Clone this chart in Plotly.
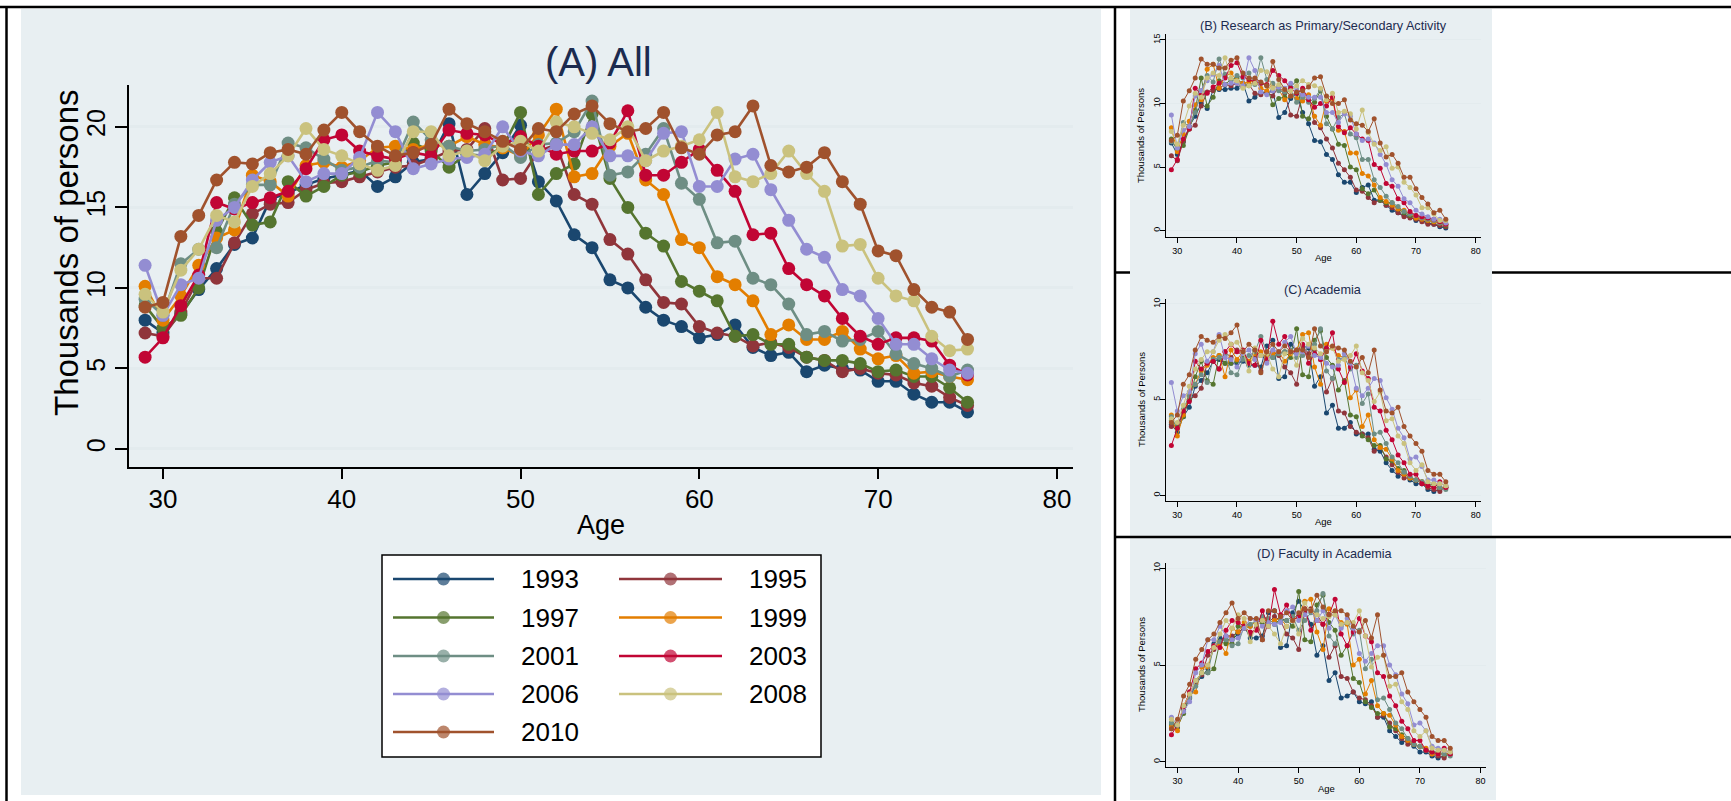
import plotly.graph_objects as go

W, H = 1731, 801
FONT = "Liberation Sans, Arial, sans-serif"

ages = list(range(29, 76))
years = ["1993", "1995", "1997", "1999", "2001", "2003", "2006", "2008", "2010"]
colors = ["#1a476f", "#90353b", "#55752f", "#e37e00", "#6e8e84",
          "#c10534", "#938dd2", "#cac27e", "#a0522d"]

# ---------------- Panel A: All ----------------
a_1993 = [8.0, 7.2, 8.4, 9.9, 11.2, 12.7, 13.1, 15.5, 15.9, 16.4, 16.8, 17.0, 17.3, 16.3, 16.9, 17.8, 18.0, 20.2, 15.8, 17.1,
          18.4, 20.1, 16.6, 15.4, 13.3, 12.5, 10.5, 10.0, 8.8, 8.0, 7.6, 6.9, 7.1, 7.7, 6.3, 5.8, 6.0, 4.8, 5.2, 5.0,
          4.9, 4.2, 4.2, 3.4, 2.9, 2.9, 2.3]
a_1995 = [7.2, 7.0, 8.5, 10.6, 10.6, 12.8, 14.6, 15.2, 15.3, 16.1, 16.5, 16.6, 16.9, 17.2, 17.5, 17.6, 18.0, 18.5, 18.6, 19.9,
          16.7, 16.8, 18.5, 18.9, 15.8, 15.2, 13.0, 12.1, 10.5, 9.1, 9.0, 7.6, 7.2, 7.0, 6.4, 6.6, 6.3, 5.7, 5.5, 4.8,
          5.0, 4.7, 4.6, 4.1, 3.9, 3.2, 2.7]
a_1997 = [8.9, 7.5, 8.3, 10.0, 13.5, 15.6, 13.9, 14.1, 16.6, 15.7, 16.3, 17.0, 17.2, 17.6, 17.8, 19.0, 18.5, 17.5, 18.3, 18.2,
          18.7, 20.9, 15.8, 17.1, 17.7, 20.8, 16.8, 15.0, 13.4, 12.6, 10.4, 9.8, 9.2, 7.0, 7.1, 6.5, 6.5, 5.7, 5.5, 5.5,
          5.3, 4.8, 4.9, 4.5, 4.5, 3.8, 2.9]
a_1999 = [10.1, 8.0, 9.5, 11.4, 13.1, 13.6, 17.0, 16.6, 15.7, 17.6, 17.8, 17.5, 17.9, 18.7, 18.8, 18.6, 18.9, 18.8, 19.4, 18.9,
          18.7, 18.2, 19.5, 21.1, 16.9, 17.1, 18.8, 19.6, 16.7, 15.8, 13.0, 12.5, 10.7, 10.2, 9.2, 7.1, 7.7, 6.8, 6.8, 7.3,
          6.2, 5.6, 5.8, 4.7, 4.8, 4.5, 4.3]
a_2001 = [9.3, 8.3, 11.5, 12.4, 12.5, 15.2, 16.4, 16.4, 19.0, 18.7, 18.0, 17.3, 17.5, 17.9, 17.8, 20.3, 19.2, 18.8, 18.5, 18.6,
          18.9, 18.1, 18.9, 19.0, 19.7, 21.6, 17.0, 17.2, 18.3, 19.9, 16.5, 15.5, 12.8, 12.9, 10.6, 10.2, 9.0, 7.1, 7.3, 6.7,
          6.8, 7.3, 5.9, 5.3, 5.0, 4.5, 4.9]
a_2003 = [5.7, 6.9, 8.9, 10.8, 15.3, 14.9, 15.3, 15.6, 16.0, 17.4, 19.2, 19.5, 18.5, 18.2, 18.0, 18.4, 18.2, 19.8, 19.6, 19.5,
          18.9, 19.4, 18.8, 18.3, 18.5, 18.5, 19.0, 21.0, 17.0, 17.0, 17.8, 18.6, 17.3, 16.0, 13.3, 13.4, 11.2, 10.2, 9.5, 8.1,
          7.0, 6.5, 6.9, 6.9, 6.7, 5.2, 4.6]
a_2006 = [11.4, 8.3, 10.2, 10.6, 14.2, 15.0, 16.7, 17.8, 18.2, 16.6, 17.1, 17.1, 18.1, 20.9, 19.7, 17.4, 17.7, 18.0, 18.1, 18.3,
          20.0, 18.5, 18.2, 18.9, 18.9, 20.0, 18.2, 18.2, 17.9, 19.6, 19.7, 16.3, 16.3, 18.0, 18.3, 16.1, 14.2, 12.4, 11.9, 9.9,
          9.5, 8.1, 6.5, 6.5, 5.6, 4.9, 4.7]
a_2008 = [9.6, 8.5, 11.1, 12.4, 14.5, 14.1, 16.3, 17.1, 18.2, 19.9, 18.6, 18.2, 17.7, 17.3, 17.6, 19.7, 19.7, 18.2, 18.5, 17.9,
          18.8, 19.1, 18.5, 20.3, 20.0, 19.6, 19.2, 20.0, 17.9, 18.5, 18.8, 19.2, 20.9, 16.9, 16.6, 17.1, 18.5, 17.1, 16.0, 12.6,
          12.7, 10.6, 9.5, 9.2, 7.0, 6.1, 6.2]
a_2010 = [8.8, 9.1, 13.2, 14.5, 16.7, 17.8, 17.7, 18.4, 18.6, 18.3, 19.8, 20.9, 19.7, 18.8, 18.2, 18.4, 18.9, 21.1, 20.2, 19.7,
          19.1, 18.6, 19.9, 19.7, 20.8, 21.3, 20.2, 19.7, 19.9, 20.9, 18.7, 18.3, 19.5, 19.7, 21.3, 17.6, 17.2, 17.5, 18.4, 16.6,
          15.2, 12.3, 12.0, 9.9, 8.8, 8.5, 6.8]

# ---------------- Panel B: Research as Primary/Secondary Activity ----------------
b_1993 = [6.9, 6.0, 7.0, 8.2, 9.0, 10.0, 9.6, 11.1, 11.1, 11.1, 11.2, 11.2, 11.6, 10.2, 10.5, 10.9, 10.8, 11.0, 8.9, 9.3,
          10.4, 10.8, 9.3, 8.4, 7.1, 7.0, 6.0, 5.6, 4.4, 3.8, 3.8, 3.0, 3.4, 3.6, 2.4, 2.4, 2.0, 1.6, 1.4, 1.2,
          1.1, 0.8, 0.8, 0.6, 0.5, 0.3, 0.2]
b_1995 = [5.9, 5.5, 7.0, 8.0, 8.3, 9.8, 10.9, 11.0, 11.2, 11.5, 11.4, 11.6, 11.3, 11.5, 10.8, 10.7, 10.9, 10.6, 11.3, 10.8,
          9.1, 9.0, 10.7, 10.5, 8.5, 8.1, 7.2, 6.5, 5.3, 4.8, 4.2, 3.2, 3.1, 2.6, 2.2, 2.4, 2.0, 1.8, 1.4, 1.1,
          1.0, 0.9, 0.7, 0.5, 0.5, 0.4, 0.3]
b_1997 = [7.2, 6.3, 6.7, 8.0, 9.5, 12.0, 9.8, 10.5, 11.8, 11.5, 11.9, 12.0, 11.5, 11.4, 11.7, 11.6, 11.4, 9.9, 10.4, 10.5,
          11.3, 11.8, 9.0, 8.8, 10.1, 11.0, 9.0, 8.0, 6.8, 6.7, 5.0, 4.8, 3.3, 2.9, 3.2, 2.4, 2.2, 2.2, 1.7, 1.4,
          1.2, 1.0, 1.0, 0.8, 0.7, 0.6, 0.4]
b_1999 = [8.1, 6.2, 7.6, 8.6, 9.9, 10.3, 12.7, 13.1, 11.2, 12.1, 12.4, 11.8, 11.6, 11.7, 11.8, 11.2, 11.0, 11.5, 11.1, 10.3,
          10.6, 10.4, 10.2, 10.7, 9.0, 8.3, 10.2, 10.4, 7.9, 7.8, 6.1, 6.1, 4.5, 4.3, 3.6, 2.6, 2.3, 2.0, 1.7, 1.6,
          1.3, 1.0, 0.9, 0.8, 0.7, 0.6, 0.5]
b_2001 = [7.0, 6.5, 8.5, 8.2, 9.3, 11.0, 12.2, 11.7, 13.5, 12.3, 11.8, 12.2, 12.0, 12.4, 11.5, 13.6, 11.9, 11.6, 11.0, 10.9,
          11.1, 10.1, 10.5, 10.1, 10.4, 11.1, 8.4, 8.0, 8.9, 9.2, 7.6, 7.3, 5.6, 5.6, 4.0, 3.4, 2.7, 2.2, 1.9, 1.5,
          1.3, 1.2, 1.0, 0.9, 0.8, 0.6, 0.5]
b_2003 = [4.8, 5.6, 7.2, 8.0, 11.2, 10.7, 10.8, 11.3, 11.6, 12.0, 13.0, 13.2, 12.1, 11.9, 11.7, 11.6, 11.5, 12.6, 12.2, 11.8,
          11.2, 10.8, 11.2, 10.3, 9.7, 10.0, 9.8, 10.5, 8.2, 7.7, 8.1, 7.6, 7.2, 7.1, 5.2, 4.9, 3.7, 3.5, 2.5, 2.2,
          1.5, 1.2, 1.1, 1.0, 0.9, 0.7, 0.5]
b_2006 = [9.1, 6.5, 7.9, 8.2, 10.6, 11.0, 11.8, 12.3, 13.0, 11.5, 11.6, 11.6, 11.4, 13.6, 12.6, 10.9, 10.7, 11.0, 11.3, 11.2,
          11.6, 11.0, 10.7, 10.5, 10.5, 10.5, 9.3, 9.3, 8.5, 9.2, 9.0, 7.6, 7.1, 7.2, 6.9, 6.0, 5.2, 4.0, 3.5, 2.5,
          2.2, 1.6, 1.3, 1.1, 0.9, 0.9, 0.6]
b_2008 = [7.8, 6.8, 8.3, 9.8, 10.8, 10.5, 12.0, 12.4, 12.2, 13.6, 12.0, 11.8, 11.2, 11.4, 11.6, 12.6, 12.5, 11.2, 11.5, 11.1,
          11.0, 11.4, 11.8, 11.5, 11.4, 11.2, 10.3, 10.8, 9.3, 9.4, 9.2, 8.0, 9.5, 7.7, 6.8, 6.3, 6.6, 4.9, 5.0, 3.8,
          3.4, 2.8, 1.8, 1.8, 1.3, 0.8, 0.8]
b_2010 = [7.1, 7.5, 10.2, 11.0, 12.0, 13.5, 13.1, 13.1, 12.8, 12.8, 13.4, 13.6, 12.4, 12.0, 12.0, 11.7, 11.4, 13.3, 11.9, 11.1,
          10.6, 10.9, 11.0, 11.3, 12.0, 12.1, 10.6, 10.0, 10.0, 10.3, 8.7, 8.4, 8.3, 7.8, 8.8, 6.9, 5.8, 6.0, 5.3, 4.2,
          4.2, 3.3, 2.6, 2.1, 1.4, 1.6, 0.9]

# ---------------- Panel C: Academia ----------------
c_1993 = [3.7, 3.3, 4.1, 4.6, 5.7, 6.0, 6.4, 7.0, 7.1, 6.9, 6.9, 6.9, 7.0, 6.8, 6.8, 6.7, 7.8, 8.1, 6.1, 6.2,
          7.9, 7.5, 7.8, 7.7, 5.7, 6.2, 4.3, 4.7, 3.5, 3.5, 3.8, 3.2, 3.2, 3.2, 2.4, 2.3, 1.7, 1.3, 1.0, 1.2,
          0.8, 0.6, 0.6, 0.3, 0.2, 0.3, 0.4]
c_1995 = [3.6, 3.7, 4.3, 5.0, 5.2, 5.6, 6.9, 7.0, 6.6, 7.5, 7.2, 7.6, 7.2, 6.9, 7.2, 6.5, 7.3, 7.5, 7.3, 6.7,
          6.4, 5.8, 7.8, 7.4, 7.6, 7.1, 5.4, 6.1, 4.4, 4.3, 3.6, 3.3, 3.2, 3.0, 2.3, 2.5, 2.0, 1.6, 1.2, 0.9,
          0.9, 0.8, 0.6, 0.4, 0.3, 0.2, 0.5]
c_1997 = [3.9, 3.6, 4.1, 5.0, 6.2, 7.0, 6.0, 5.8, 7.3, 6.9, 6.9, 7.0, 7.2, 7.0, 7.6, 7.3, 7.4, 7.2, 7.4, 7.5,
          7.2, 8.7, 6.3, 6.2, 8.1, 8.6, 7.2, 6.8, 5.5, 6.0, 4.2, 4.1, 3.1, 2.9, 2.6, 2.6, 1.9, 1.8, 1.4, 1.3,
          0.9, 0.8, 0.7, 0.5, 0.6, 0.4, 0.4]
c_1999 = [4.2, 3.1, 4.2, 5.3, 5.8, 6.5, 6.8, 7.2, 7.3, 6.2, 7.6, 7.1, 7.5, 7.0, 7.4, 7.5, 7.2, 7.4, 7.5, 7.0,
          7.4, 7.6, 8.4, 8.5, 6.7, 5.8, 7.9, 7.7, 7.3, 7.2, 5.1, 5.5, 3.6, 4.2, 2.9, 2.5, 2.4, 1.9, 1.3, 1.1,
          0.9, 0.8, 0.7, 0.5, 0.4, 0.4, 0.4]
c_2001 = [4.1, 3.5, 4.5, 5.2, 5.8, 6.3, 5.9, 7.1, 7.2, 7.3, 6.4, 6.3, 7.1, 7.3, 7.5, 8.3, 7.5, 7.2, 7.4, 7.5,
          7.6, 7.2, 7.3, 7.8, 7.9, 8.7, 6.5, 6.1, 7.1, 7.2, 6.6, 6.8, 4.8, 5.3, 3.2, 3.3, 2.7, 2.0, 1.7, 1.2,
          1.0, 0.8, 0.7, 0.6, 0.4, 0.4, 0.3]
c_2003 = [2.6, 3.5, 4.4, 4.9, 7.0, 6.6, 6.9, 7.0, 6.6, 7.5, 7.9, 7.5, 7.6, 6.9, 6.8, 8.1, 7.1, 9.1, 7.9, 8.3,
          7.5, 7.5, 7.9, 6.9, 7.4, 7.1, 7.7, 8.5, 6.6, 5.9, 6.7, 7.4, 6.5, 6.1, 4.6, 4.4, 3.4, 2.9, 2.1, 1.7,
          1.1, 1.1, 0.6, 0.5, 0.4, 0.7, 0.4]
c_2006 = [5.9, 4.4, 5.2, 5.4, 7.4, 7.9, 7.0, 7.5, 8.4, 7.2, 7.1, 6.7, 7.4, 7.6, 7.1, 7.3, 6.9, 7.6, 7.5, 8.0,
          8.3, 7.4, 7.5, 7.8, 7.3, 7.2, 6.9, 6.7, 6.8, 7.4, 6.9, 5.6, 5.2, 5.6, 6.1, 6.0, 5.1, 4.5, 3.5, 3.0,
          1.9, 2.0, 1.5, 0.8, 0.8, 0.6, 0.5]
c_2008 = [4.0, 3.8, 4.7, 5.7, 6.6, 7.1, 7.5, 7.5, 8.1, 8.4, 7.9, 8.0, 7.5, 6.5, 7.7, 7.3, 7.4, 6.6, 6.2, 7.4,
          7.5, 6.8, 8.2, 7.9, 7.7, 7.4, 7.5, 7.7, 7.0, 7.1, 7.3, 7.8, 6.4, 6.0, 4.9, 5.4, 3.9, 4.0, 3.1, 2.7,
          1.7, 1.3, 1.6, 0.7, 0.6, 0.6, 0.5]
c_2010 = [3.8, 4.2, 5.8, 6.3, 7.6, 8.3, 8.1, 8.0, 8.3, 8.2, 8.5, 8.9, 7.5, 7.9, 7.6, 6.4, 7.5, 7.9, 7.5, 7.8,
          7.5, 7.6, 7.6, 7.2, 8.7, 7.8, 7.5, 7.8, 7.7, 7.6, 7.0, 6.7, 7.2, 6.4, 7.6, 5.5, 4.4, 4.3, 4.6, 3.6,
          3.1, 2.7, 2.3, 1.3, 1.1, 1.1, 0.7]

# ---------------- Panel D: Faculty in Academia ----------------
d_1993 = [2.0, 1.8, 2.7, 3.3, 4.0, 4.4, 4.8, 6.1, 6.4, 6.3, 6.3, 6.6, 7.0, 6.4, 6.4, 6.5, 7.7, 7.8, 5.9, 6.0,
          7.7, 8.3, 7.8, 7.1, 5.5, 6.0, 4.2, 4.6, 3.3, 3.4, 3.6, 3.1, 3.0, 3.1, 2.3, 2.3, 1.6, 1.3, 1.0, 1.1,
          0.8, 0.5, 0.5, 0.3, 0.2, 0.3, 0.4]
d_1995 = [1.7, 1.9, 2.8, 3.6, 4.1, 4.5, 5.5, 5.8, 6.2, 6.5, 6.5, 6.7, 6.9, 6.6, 6.9, 6.3, 7.2, 7.5, 7.3, 6.6,
          6.4, 5.8, 7.8, 7.9, 7.6, 7.1, 5.4, 6.0, 4.4, 4.3, 3.6, 3.3, 3.2, 2.9, 2.3, 2.4, 2.0, 1.6, 1.2, 0.9,
          0.9, 0.8, 0.6, 0.4, 0.3, 0.2, 0.5]
d_1997 = [1.9, 1.8, 2.5, 3.4, 4.2, 4.6, 4.6, 4.8, 6.2, 6.1, 6.1, 7.0, 6.9, 7.0, 7.3, 7.2, 7.2, 7.1, 7.4, 7.3,
          7.0, 8.8, 6.3, 6.2, 8.1, 8.6, 7.2, 6.8, 5.5, 6.0, 4.3, 4.1, 3.1, 2.8, 2.5, 2.5, 1.8, 1.7, 1.4, 1.2,
          0.9, 0.8, 0.6, 0.5, 0.5, 0.4, 0.4]
d_1999 = [1.8, 1.6, 2.9, 3.5, 3.6, 4.9, 4.9, 5.9, 6.1, 5.6, 6.9, 6.7, 7.2, 7.0, 7.3, 7.4, 7.2, 7.3, 7.4, 7.0,
          7.3, 7.5, 8.3, 8.4, 6.7, 5.8, 7.9, 7.6, 7.2, 7.1, 5.0, 5.3, 3.5, 4.2, 2.9, 2.5, 2.4, 1.9, 1.3, 1.1,
          0.9, 0.8, 0.7, 0.4, 0.4, 0.4, 0.4]
d_2001 = [2.0, 1.9, 2.8, 3.3, 3.9, 4.6, 4.6, 6.0, 6.2, 6.3, 6.0, 6.1, 7.0, 7.1, 7.3, 7.5, 7.4, 7.1, 7.3, 7.3,
          7.5, 6.8, 7.3, 7.7, 7.8, 8.7, 6.5, 6.1, 7.0, 7.2, 6.6, 6.8, 4.8, 5.3, 3.2, 3.3, 2.7, 2.0, 1.7, 1.2,
          0.9, 0.8, 0.6, 0.5, 0.4, 0.4, 0.3]
d_2003 = [1.4, 1.9, 2.8, 3.6, 4.8, 5.1, 5.7, 6.0, 5.9, 6.8, 7.3, 7.2, 7.0, 6.7, 6.8, 7.8, 7.0, 8.9, 7.6, 8.1,
          7.3, 7.5, 7.9, 6.8, 7.3, 7.1, 7.6, 8.4, 6.6, 6.0, 6.7, 7.4, 6.5, 6.2, 4.6, 4.4, 3.4, 2.9, 2.1, 1.7,
          1.1, 1.1, 0.6, 0.5, 0.4, 0.7, 0.4]
d_2006 = [2.3, 1.9, 2.6, 3.1, 4.6, 5.0, 6.3, 6.3, 7.0, 6.5, 6.3, 6.4, 6.9, 7.4, 7.3, 7.0, 7.2, 7.1, 7.2, 7.8,
          8.0, 7.3, 7.6, 7.8, 7.3, 7.8, 6.9, 7.6, 6.9, 7.4, 6.9, 5.6, 5.2, 5.6, 6.0, 6.0, 5.0, 4.5, 3.5, 3.0,
          1.9, 2.0, 1.6, 0.8, 0.7, 0.6, 0.5]
d_2008 = [2.2, 1.9, 2.9, 3.5, 4.2, 4.6, 5.0, 5.9, 6.6, 7.3, 6.9, 7.6, 7.4, 6.2, 7.1, 7.3, 7.0, 6.6, 6.1, 7.0,
          7.3, 6.6, 8.2, 7.8, 7.6, 7.4, 7.5, 7.6, 7.1, 7.2, 7.2, 7.8, 6.5, 4.9, 5.4, 5.5, 3.9, 4.0, 3.1, 2.7,
          1.6, 1.3, 1.6, 0.7, 0.6, 0.6, 0.5]
d_2010 = [1.7, 2.2, 3.4, 4.0, 5.3, 5.8, 6.3, 6.6, 7.2, 7.7, 8.2, 7.4, 7.7, 7.4, 7.4, 6.3, 7.8, 7.8, 7.5, 7.7,
          7.3, 7.7, 7.9, 7.8, 8.6, 8.0, 7.6, 7.8, 7.8, 7.6, 7.0, 6.7, 7.3, 6.4, 7.6, 5.5, 4.4, 4.4, 4.6, 3.6,
          3.1, 2.7, 2.3, 1.3, 1.1, 1.1, 0.7]

x_ticks = [30, 40, 50, 60, 70, 80]
a_yticks = [0, 5, 10, 15, 20]
b_yticks = [0, 5, 10, 15]
cd_yticks = [0, 5, 10]

panel_titles = ["(A) All", "(B) Research as Primary/Secondary Activity",
                "(C) Academia", "(D) Faculty in Academia"]
ytitle_a = "Thousands of persons"
ytitle_small = "Thousands of Persons"
xtitle = "Age"

series = {
    "A": [a_1993, a_1995, a_1997, a_1999, a_2001, a_2003, a_2006, a_2008, a_2010],
    "B": [b_1993, b_1995, b_1997, b_1999, b_2001, b_2003, b_2006, b_2008, b_2010],
    "C": [c_1993, c_1995, c_1997, c_1999, c_2001, c_2003, c_2006, c_2008, c_2010],
    "D": [d_1993, d_1995, d_1997, d_1999, d_2001, d_2003, d_2006, d_2008, d_2010],
}
for k, lst in series.items():
    for i, s in enumerate(lst):
        assert len(s) == len(ages), (k, years[i], len(s))

# ---------------- layout helpers (pixel -> paper) ----------------
def px(x):
    return x / W

def py(y):
    return 1 - y / H

BG = "#e8eff2"
GRID = "#e3ebee"
TITLE_COL = "#1c2b4f"

# panel geometry in pixels: plot area (x0, y0, x1, y1), y range
panels = {
    "A": dict(ax="", box=(129, 85, 1073, 467), yr=[-1.12, 22.6], yt=a_yticks, big=True),
    "B": dict(ax="2", box=(1166, 34, 1481, 237), yr=[-0.5, 15.47], yt=b_yticks, big=False),
    "C": dict(ax="3", box=(1166, 299, 1481, 501), yr=[-0.3, 10.26], yt=cd_yticks, big=False),
    "D": dict(ax="4", box=(1166, 563, 1486, 767), yr=[-0.27, 10.27], yt=cd_yticks, big=False),
}
XR = [28.1, 80.9]

fig = go.Figure()

for key, p in panels.items():
    ax = p["ax"]
    x0, y0, x1, y1 = p["box"]
    big = p["big"]
    msize = 13 if big else 5
    lw = 2.6 if big else 1.0
    for yr_lbl, col, vals in zip(years, colors, series[key]):
        fig.add_trace(go.Scatter(
            x=ages, y=vals, mode="lines+markers", name=yr_lbl,
            line=dict(color=col, width=lw),
            marker=dict(color=col, size=msize, symbol="circle", line=dict(width=0)),
            xaxis="x" + ax, yaxis="y" + ax, showlegend=False, hoverinfo="skip"))
    xa = dict(domain=[px(x0), px(x1)], range=XR, autorange=False,
              tickmode="array", tickvals=x_ticks, ticks="outside",
              ticklen=10 if big else 5, tickwidth=1.5 if big else 1, tickcolor="black",
              showline=True, linecolor="black", linewidth=1.5 if big else 1,
              showgrid=False, zeroline=False, anchor="y" + ax,
              tickfont=dict(family=FONT, size=26 if big else 9, color="black"),
              ticklabelstandoff=-2 if big else 0, fixedrange=True)
    ya = dict(domain=[py(y1), py(y0)], range=p["yr"], autorange=False,
              tickmode="array", tickvals=p["yt"], ticks="outside",
              ticklen=12 if big else 5, tickwidth=1.5 if big else 1, tickcolor="black",
              showline=True, linecolor="black", linewidth=1.5 if big else 1,
              showgrid=True, gridcolor=GRID, gridwidth=2.5 if big else 1,
              zeroline=False, anchor="x" + ax,
              tickangle=-90,
              tickfont=dict(family=FONT, size=25 if big else 9, color="black"),
              ticklabelstandoff=0 if big else -4, fixedrange=True)
    fig.update_layout(**{"xaxis" + ax: xa, "yaxis" + ax: ya})

# ---------------- legend for panel A (drawn in its own axis) ----------------
LB = (382, 555, 821, 757)
fig.update_layout(
    xaxis5=dict(domain=[px(LB[0]), px(LB[2])], range=[LB[0], LB[2]], visible=False, fixedrange=True),
    yaxis5=dict(domain=[py(LB[3]), py(LB[1])], range=[LB[3], LB[1]], visible=False, fixedrange=True),
)
row_y = [579, 617.5, 656, 694, 732]
cols_geom = [dict(l0=393, l1=494, tx=519), dict(l0=619, l1=722, tx=747)]
annotations = []
for i, (yr_lbl, col) in enumerate(zip(years, colors)):
    r, c = divmod(i, 2)
    g = cols_geom[c]
    yy = row_y[r]
    fig.add_trace(go.Scatter(
        x=[g["l0"], (g["l0"] + g["l1"]) / 2, g["l1"]], y=[yy, yy, yy],
        mode="lines+markers", line=dict(color=col, width=2.6),
        marker=dict(color=col, size=[0, 13, 0], line=dict(width=0)),
        xaxis="x5", yaxis="y5", showlegend=False, hoverinfo="skip"))
    annotations.append(dict(x=g["tx"], y=yy, xref="x5", yref="y5", text=yr_lbl,
                            showarrow=False, xanchor="left", yanchor="middle",
                            font=dict(family=FONT, size=26, color="black")))

# ---------------- titles ----------------
def ann(x, y, text, size, color="black", angle=0):
    return dict(x=px(x), y=py(y), xref="paper", yref="paper", text=text, showarrow=False,
                xanchor="center", yanchor="middle", textangle=angle, borderpad=0,
                font=dict(family=FONT, size=size, color=color))

annotations += [
    ann(598, 62, panel_titles[0], 40, TITLE_COL),
    ann(601, 525, xtitle, 27),
    ann(66, 253, ytitle_a, 33, angle=-90),
    ann(1323, 26, panel_titles[1], 12.7, TITLE_COL),
    ann(1323, 290, panel_titles[2], 12.7, TITLE_COL),
    ann(1325, 554, panel_titles[3], 12.7, TITLE_COL),
    ann(1141, 136, ytitle_small, 9.5, angle=-90),
    ann(1141, 400, ytitle_small, 9.5, angle=-90),
    ann(1141, 665, ytitle_small, 9.5, angle=-90),
    ann(1323, 257, xtitle, 9.5),
    ann(1323, 521, xtitle, 9.5),
    ann(1326, 788, xtitle, 9.5),
]

# ---------------- shapes: table lines, panel backgrounds, legend box ----------------
def rect(x0, y0, x1, y1, fill, lw=0, lc="black", layer="below"):
    return dict(type="rect", xref="paper", yref="paper", x0=px(x0), x1=px(x1), y0=py(y1), y1=py(y0),
                fillcolor=fill, line=dict(width=lw, color=lc), layer=layer)

def line(x0, y0, x1, y1, w=2.5):
    return dict(type="line", xref="paper", yref="paper", x0=px(x0), x1=px(x1), y0=py(y0), y1=py(y1),
                line=dict(color="black", width=w), layer="below")

shapes = [
    line(1115, 272.5, 1731, 272.5),
    rect(21, 9, 1101, 795, BG),
    rect(1130, 9, 1492, 273, BG),
    rect(1130, 273, 1492, 537, BG),
    rect(1130, 537, 1496, 800, BG),
    line(0, 7, 1731, 7),
    line(6.5, 7, 6.5, 801),
    line(1115, 7, 1115, 801),
    line(1115, 537, 1731, 537),
    rect(LB[0], LB[1], LB[2], LB[3], "white", lw=1.5),
]

fig.update_layout(
    width=W, height=H, autosize=False,
    margin=dict(l=0, r=0, t=0, b=0, pad=0),
    paper_bgcolor="white", plot_bgcolor="white",
    showlegend=False, annotations=annotations, shapes=shapes,
    font=dict(family=FONT, color="black"),
)

fig.write_html("out.html")
